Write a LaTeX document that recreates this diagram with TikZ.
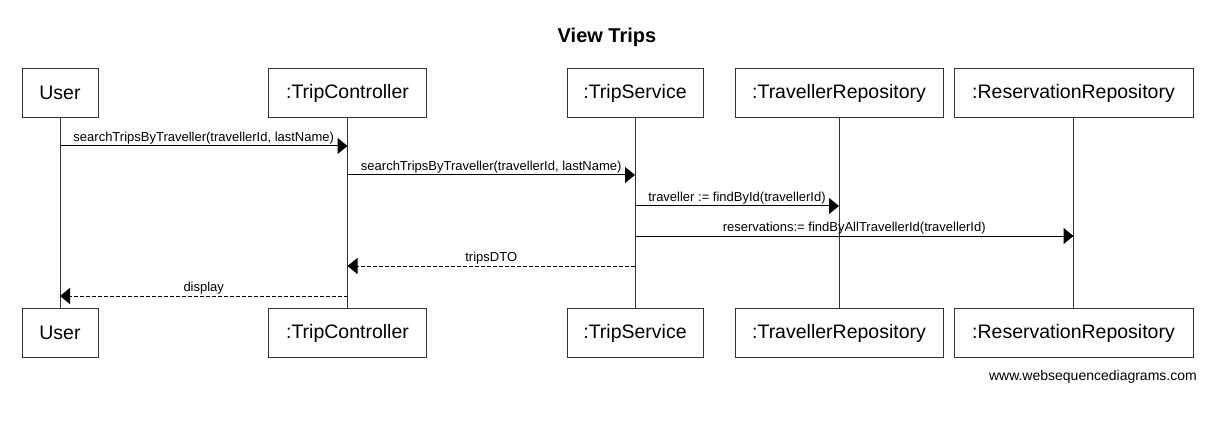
\documentclass[tikz,border=0pt]{standalone}
\usepackage{fontspec}
\setmainfont{Liberation Sans}
\usetikzlibrary{arrows.meta}
\begin{document}
\begin{tikzpicture}[x=1pt,y=-1pt,
  actor/.style={draw=black!80, line width=1pt, minimum height=49pt, inner sep=0pt,
    font=\fontsize{19.5}{23}\selectfont, fill=white},
  life/.style={draw=black!80, line width=1pt},
  msg/.style={draw=black, line width=1pt, -{Triangle[length=10pt,width=16pt]}},
  ret/.style={msg, dash pattern=on 4pt off 2pt},
  lbl/.style={font=\fontsize{13}{15}\selectfont, above, inner sep=1.2pt}]
\useasboundingbox (0,0) rectangle (1207,422);
\node[font=\bfseries\fontsize{20}{24}\selectfont] (title) at (607,37) {View Trips};

\node[actor, minimum width=76pt]  (u1) at (60,93) {User};
\node[actor, minimum width=158pt] (c1) at (347.5,93) {:TripController};
\node[actor, minimum width=136pt] (s1) at (635,93) {:TripService};
\node[actor, minimum width=208pt] (t1) at (839,93) {:TravellerRepository};
\node[actor, minimum width=239pt] (r1) at (1073.5,93) {:ReservationRepository};

\node[actor, minimum width=76pt]  (u2) at (60,333) {User};
\node[actor, minimum width=158pt] (c2) at (347.5,333) {:TripController};
\node[actor, minimum width=136pt] (s2) at (635,333) {:TripService};
\node[actor, minimum width=208pt] (t2) at (839,333) {:TravellerRepository};
\node[actor, minimum width=239pt] (r2) at (1073.5,333) {:ReservationRepository};

\draw[life] (u1.south) -- (u2.north);
\draw[life] (c1.south) -- (c2.north);
\draw[life] (s1.south) -- (s2.north);
\draw[life] (t1.south) -- (t2.north);
\draw[life] (r1.south) -- (r2.north);

\coordinate (m1) at (0,146);
\coordinate (m2) at (0,175);
\coordinate (m3) at (0,206);
\coordinate (m4) at (0,236);
\coordinate (m5) at (0,266);
\coordinate (m6) at (0,296);

\draw[msg] (u1 |- m1) -- node[lbl] {searchTripsByTraveller(travellerId, lastName)} (c1 |- m1);
\draw[msg] (c1 |- m2) -- node[lbl] {searchTripsByTraveller(travellerId, lastName)} (s1 |- m2);
\draw[msg] (s1 |- m3) -- node[lbl] {traveller := findById(travellerId)} (t1 |- m3);
\draw[msg] (s1 |- m4) -- node[lbl] {reservations:= findByAllTravellerId(travellerId)} (r1 |- m4);
\draw[ret] (s1 |- m5) -- node[lbl] {tripsDTO} (c1 |- m5);
\draw[ret] (c1 |- m6) -- node[lbl] {display} (u1 |- m6);

\node[anchor=east, font=\fontsize{14}{16}\selectfont, inner sep=0pt] (foot) at (1197,377) {www.websequencediagrams.com};
\end{tikzpicture}
\end{document}
